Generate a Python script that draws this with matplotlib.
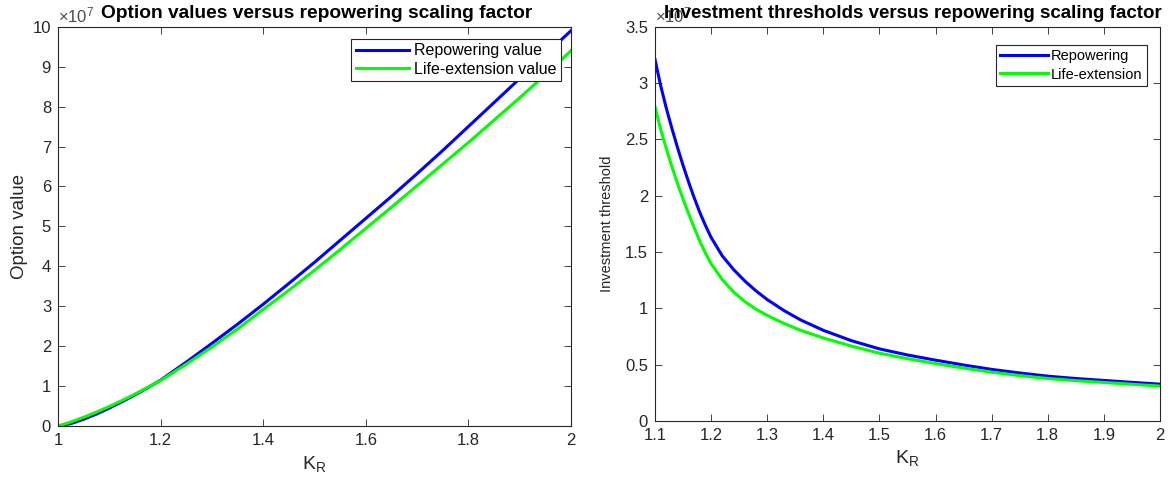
import matplotlib
matplotlib.use("Agg")
import matplotlib.pyplot as plt
from matplotlib.ticker import FuncFormatter

plt.rcParams['font.family'] = ['Liberation Sans', 'DejaVu Sans']
plt.rcParams['mathtext.default'] = 'regular'

# Option values (x 1e7) against repowering scaling factor K_R
k_opt = [1.00, 1.025, 1.05, 1.075, 1.10, 1.125, 1.15, 1.175, 1.20, 1.25, 1.30, 1.35,
         1.40, 1.45, 1.50, 1.55, 1.60, 1.65, 1.70, 1.75, 1.80, 1.85, 1.90, 1.95, 2.00]
repower_value = [0.00, 0.06, 0.17, 0.30, 0.45, 0.61, 0.78, 0.96, 1.15, 1.60, 2.07, 2.55,
                 3.05, 3.57, 4.10, 4.65, 5.20, 5.75, 6.32, 6.90, 7.50, 8.10, 8.70, 9.30, 9.90]
lifeext_value = [0.00, 0.10, 0.22, 0.35, 0.49, 0.64, 0.80, 0.97, 1.14, 1.55, 1.98, 2.43,
                 2.92, 3.40, 3.90, 4.42, 4.95, 5.48, 6.02, 6.56, 7.10, 7.66, 8.22, 8.80, 9.40]

# Investment thresholds (x 1e7) against K_R
k_thr = [1.10, 1.11, 1.12, 1.13, 1.14, 1.15, 1.16, 1.17, 1.18, 1.19, 1.20, 1.22,
         1.24, 1.26, 1.28, 1.30, 1.33, 1.36, 1.40, 1.45, 1.50, 1.55, 1.60, 1.65,
         1.70, 1.75, 1.80, 1.85, 1.90, 1.95, 2.00]
repower_thr = [3.21, 2.98, 2.78, 2.60, 2.43, 2.27, 2.12, 1.98, 1.85, 1.735, 1.63, 1.465,
               1.345, 1.243, 1.155, 1.078, 0.980, 0.896, 0.805, 0.713, 0.640, 0.586, 0.540,
               0.497, 0.458, 0.426, 0.398, 0.377, 0.360, 0.343, 0.327]
lifeext_thr = [2.79, 2.59, 2.42, 2.26, 2.11, 1.97, 1.84, 1.715, 1.595, 1.49, 1.395, 1.255,
               1.145, 1.060, 0.993, 0.937, 0.866, 0.804, 0.737, 0.665, 0.602, 0.553, 0.510,
               0.470, 0.433, 0.403, 0.377, 0.358, 0.342, 0.326, 0.310]

SCALE = 1e7
BLUE = '#0000ff'
GREEN = '#00ff00'
AXC = '#262626'

fig = plt.figure(figsize=(11.7, 4.84), dpi=100)
ax1 = fig.add_axes([0.0496, 0.1198, 0.4384, 0.8250])
ax2 = fig.add_axes([0.5598, 0.1302, 0.4316, 0.8147])

tick_fmt = FuncFormatter(lambda v, pos: '%g' % round(v / SCALE, 6))


def style(ax):
    for s in ax.spines.values():
        s.set_color(AXC)
        s.set_linewidth(0.8)
    ax.tick_params(direction='in', top=True, right=True, length=5, width=0.6,
                   colors=AXC, labelsize=12, pad=5)
    ax.yaxis.set_major_formatter(tick_fmt)
    ax.text(0.0, 1.004, r'$\times$10$^{7}$', transform=ax.transAxes,
            ha='left', va='bottom', fontsize=12, color='#4d4d4d')


ax1.plot(k_opt, [v * SCALE for v in repower_value], color=BLUE, lw=2.2,
         label='Repowering value')
ax1.plot(k_opt, [v * SCALE for v in lifeext_value], color=GREEN, lw=2.2,
         label='Life-extension value')
ax1.set_xlim(1, 2)
ax1.set_ylim(0, 10 * SCALE)
ax1.set_xticks([1, 1.2, 1.4, 1.6, 1.8, 2])
ax1.set_xticklabels(['1', '1.2', '1.4', '1.6', '1.8', '2'])
ax1.set_yticks([i * SCALE for i in range(11)])
style(ax1)
ax1.set_xlabel('K$_{R}$', fontsize=14, color=AXC, labelpad=4)
ax1.set_ylabel('Option value', fontsize=13.5, color=AXC, labelpad=3)
ax1.text(0.0837, 1.012, 'Option values versus repowering scaling factor',
         transform=ax1.transAxes, ha='left', va='bottom', fontsize=13.8,
         fontweight='bold')
leg1 = ax1.legend(loc='upper right', bbox_to_anchor=(0.9805, 0.97), fontsize=11.5,
                  handlelength=3.3, fancybox=False, framealpha=1, borderaxespad=0,
                  handletextpad=0.3, borderpad=0.3, labelspacing=0.2)
leg1.get_frame().set_edgecolor(AXC)
leg1.get_frame().set_linewidth(0.8)

ax2.plot(k_thr, [v * SCALE for v in repower_thr], color=BLUE, lw=2.2,
         label='Repowering')
ax2.plot(k_thr, [v * SCALE for v in lifeext_thr], color=GREEN, lw=2.2,
         label='Life-extension')
ax2.set_xlim(1.1, 2)
ax2.set_ylim(0, 3.5 * SCALE)
ax2.set_xticks([1.1 + 0.1 * i for i in range(10)])
ax2.set_xticklabels(['1.1', '1.2', '1.3', '1.4', '1.5', '1.6', '1.7', '1.8', '1.9', '2'])
ax2.set_yticks([0.5 * i * SCALE for i in range(8)])
style(ax2)
ax2.set_xlabel('K$_{R}$', fontsize=14, color=AXC, labelpad=4)
ax2.set_ylabel('Investment threshold', fontsize=10.5, color=AXC, labelpad=8)
ax2.text(0.51, 1.012, 'Investment thresholds versus repowering scaling factor',
         transform=ax2.transAxes, ha='center', va='bottom', fontsize=13.5,
         fontweight='bold')
leg2 = ax2.legend(loc='upper right', bbox_to_anchor=(0.974, 0.954), fontsize=10.5,
                  handlelength=3.3, fancybox=False, framealpha=1, borderaxespad=0,
                  handletextpad=0.2, borderpad=0.3, labelspacing=0.3)
leg2.get_frame().set_edgecolor(AXC)
leg2.get_frame().set_linewidth(0.8)

fig.savefig('out.png', dpi=100)
